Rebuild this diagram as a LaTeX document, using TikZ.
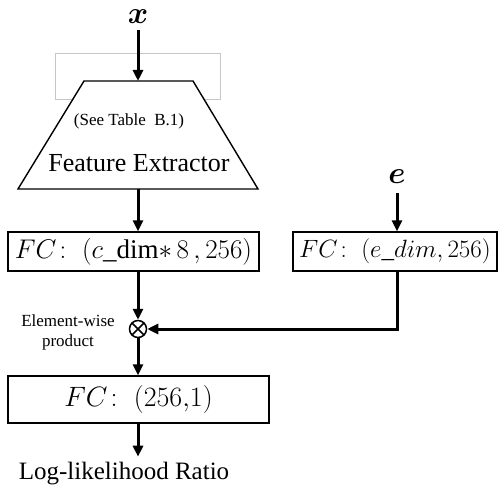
\RequirePackage{fix-cm}
\documentclass[tikz,border=0pt]{standalone}
\usepackage{fontspec}
\setmainfont{Liberation Serif}
\usepackage{amsmath}
\usepackage{amssymb}
\usepackage{bm}
\usetikzlibrary{positioning, arrows.meta, calc}
\tikzset{
  fcbox/.style={draw, line width=1.4pt, minimum height=39pt, inner sep=0pt, font=\fontsize{27}{29}\selectfont},
  inlbl/.style={font=\fontsize{31}{33}\selectfont, inner sep=0pt},
  arr/.style={-{Triangle[length=11pt,width=10pt]}, line width=3pt},
  prodnode/.style={circle, draw, line width=1.5pt, minimum size=17pt, inner sep=0pt,
    path picture={\draw[line width=1.5pt] (path picture bounding box.north west) -- (path picture bounding box.south east)
      (path picture bounding box.north east) -- (path picture bounding box.south west);}}
}

\begin{document}
\begin{tikzpicture}[x=1pt, y=-1pt]
\useasboundingbox (0,0) rectangle (500,486);
% inputs
\node[inlbl] (xin) at (138,17) {$\bm{x}$};
\node[inlbl] (ein) at (397,177) {$\bm{e}$};
% feature extractor
\draw[gray!45, line width=0.8pt] (55,53) rectangle (220,99);
\coordinate (fetop) at (138,81);
\coordinate (febot) at (138,189);
\draw[line width=1.4pt, fill=white] (84,81) -- (193,81) -- (258,189) -- (18,189) -- cycle;
\node[font=\fontsize{17}{19}\selectfont] (tbl) at (129,121) {(See Table\ \ B.1)};
\node[font=\fontsize{26}{28}\selectfont] (fe) at (139,163) {Feature Extractor};
% fully connected layers
\node[fcbox, minimum width=251pt] (fc1) at (133.5,251.5) {$FC\colon\ (c\_\mathrm{dim}{*}\,8\,, 256)$};
\node[fcbox, minimum width=204pt, font=\fontsize{25}{27}\selectfont] (fc2) at (395,251.5) {$FC\colon\ (e\_dim, 256)$};
\node[prodnode] (prod) at (138,329) {};
\node[align=center, font=\fontsize{17}{20}\selectfont] (ewp) at (68,332) {Element-wise\\product};
\node[fcbox, minimum width=261pt, minimum height=47pt, font=\fontsize{28}{30}\selectfont] (fc3) at (138.5,399.5) {$FC\colon\ (256{,}1)$};
\node[font=\fontsize{25}{27}\selectfont] (llr) at (124,474) {Log-likelihood Ratio};
% connectors
\draw[arr] (xin.south) ++(0,6) -- (fetop);
\draw[arr] (ein.south) ++(0,9) -- (fc2.north -| ein);
\draw[arr] (febot) -- (fc1.north -| febot);
\draw[arr] (fc1.south -| prod) -- (prod.north);
\draw[arr] (fc2.south -| ein) |- (prod.east);
\draw[arr] (prod.south) -- (fc3.north -| prod);
\draw[arr] (fc3.south -| prod) -- ++(0,33);
\end{tikzpicture}
\end{document}
